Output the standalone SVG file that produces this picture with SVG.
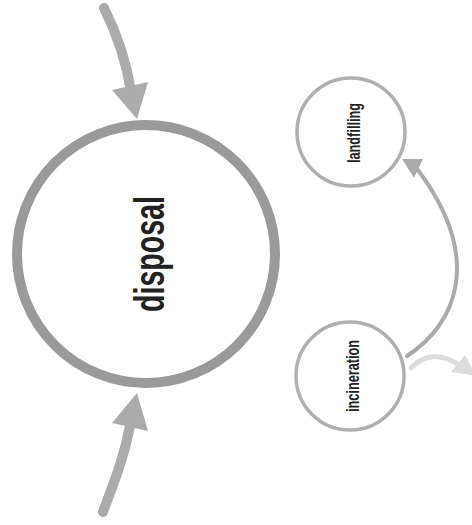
<svg xmlns="http://www.w3.org/2000/svg" width="472" height="525" viewBox="0 0 472 525">
<style>
.big{fill:none;stroke:#9a9a9a;stroke-width:10}
.small{fill:#fff;stroke:#b0b0b0;stroke-width:3.5}
.lbl{font-family:"Liberation Sans","DejaVu Sans",sans-serif;font-weight:bold;fill:#222;text-anchor:middle;dominant-baseline:central}
.shaft{fill:none;stroke:#ababab;stroke-linecap:round}
.head{fill:#ababab}
</style>
<rect width="472" height="525" fill="#fff"/>
<g id="connectors">
<path class="shaft" d="M104,8 C116,32 126,58 131,92" stroke-width="10"/>
<polygon class="head" points="112,90 148,82 137,119"/>
<path class="shaft" d="M103,512 C114,482 124,458 130,426" stroke-width="10"/>
<polygon class="head" points="112,423 148,431 137,393"/>
<path class="shaft" d="M407,356 C455,325 485,260 418,170" stroke-width="4"/>
<polygon class="head" points="402,159 423,159 414,178"/>
<path d="M411,368 C424,354 442,353 459,365" fill="none" stroke="#dcdcdc" stroke-width="5" stroke-linecap="round"/>
<polygon points="451,372 465,355 476,376" fill="#dcdcdc"/>
</g>
<g id="disposal">
<circle class="big" cx="146" cy="254" r="129"/>
<text class="lbl" transform="translate(149,254) rotate(-90)" font-size="42" textLength="116" lengthAdjust="spacingAndGlyphs">disposal</text>
</g>
<g id="landfilling">
<circle class="small" cx="351" cy="132" r="54"/>
<text class="lbl" transform="translate(354,133) rotate(-90)" font-size="18" textLength="60" lengthAdjust="spacingAndGlyphs">landfilling</text>
</g>
<g id="incineration">
<circle class="small" cx="350" cy="376" r="54"/>
<text class="lbl" transform="translate(353,376) rotate(-90)" font-size="18" textLength="72" lengthAdjust="spacingAndGlyphs">incineration</text>
</g>
</svg>
